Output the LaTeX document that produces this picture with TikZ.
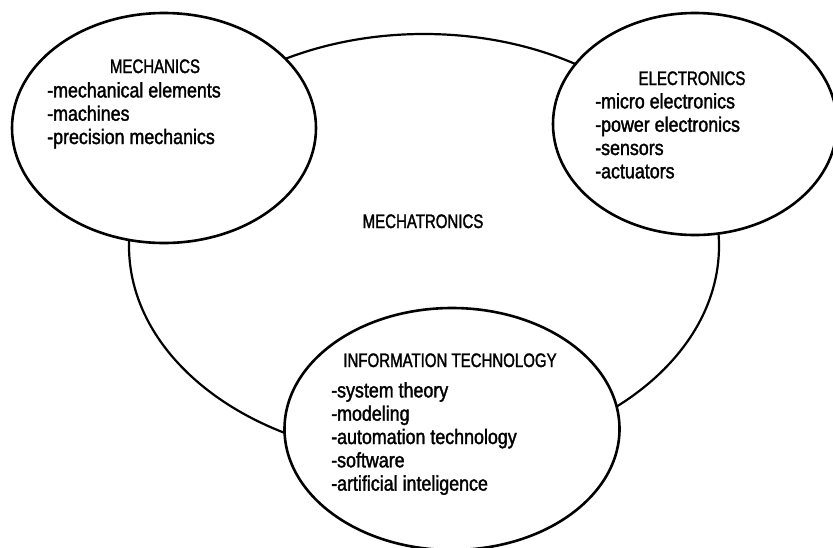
\documentclass[tikz,border=0pt]{standalone}
\usepackage{fontspec}
\setmainfont{Liberation Sans}
\newfontfamily\headfont[FakeStretch=0.77,FakeBold=1.6]{Liberation Sans}
\newfontfamily\itemfont[FakeStretch=0.85,FakeBold=1.6]{Liberation Sans}
\usepackage{tikz}
\usetikzlibrary{shapes,positioning}
\tikzset{
  every node/.style={
    inner sep=0pt
  },
  field/.style n args={2}{
    shape=ellipse,
    draw=black,
    line width=2.6pt,
    fill=white,
    minimum width=#1,
    minimum height=#2
  },
  discipline/.style={
    shape=ellipse,
    draw=black,
    line width=2.2pt,
    minimum width=590pt,
    minimum height=424pt
  },
  heading/.style={
    anchor=base,
    font=\headfont\fontsize{19.5}{22}\selectfont
  },
  topics/.style={
    anchor=north west,
    align=left,
    font=\itemfont\fontsize{21}{23.3}\selectfont
  }
}

\begin{document}
\begin{tikzpicture}[x=1pt,y=-1pt]
  \useasboundingbox (0,0) rectangle (833,547);
  \clip (0,0) rectangle (833,547);
  % the whole field
  \node [discipline] (mechatronics) at (424,246) {};
  \node [heading] (mechatronicstitle) at (423,228) {MECHATRONICS};
  % the three fields on top of it
  \node [field={304pt}{230pt}] (mechanics) at (164,128) {};
  \node [field={284pt}{222pt}] (electronics) at (695,124) {};
  \node [field={335pt}{242pt}] (infotech) at (452,429) {};
  % mechanics
  \node [heading] (mechanicstitle) at (155,73) {MECHANICS};
  \node [topics] (mechanicslist) at (47,82) {
    -mechanical elements\\
    -machines\\
    -precision mechanics
  };
  % electronics
  \node [heading] (electronicstitle) at (692,85) {ELECTRONICS};
  \node [topics] (electronicslist) at (595,93) {
    -micro electronics\\
    -power electronics\\
    -sensors\\
    -actuators
  };
  % information technology
  \node [heading] (infotechtitle) at (450,367) {INFORMATION TECHNOLOGY};
  \node [topics] (infotechlist) at (331,382) {
    -system theory\\
    -modeling\\
    -automation technology\\
    -software\\
    -artificial inteligence
  };
\end{tikzpicture}
\end{document}
